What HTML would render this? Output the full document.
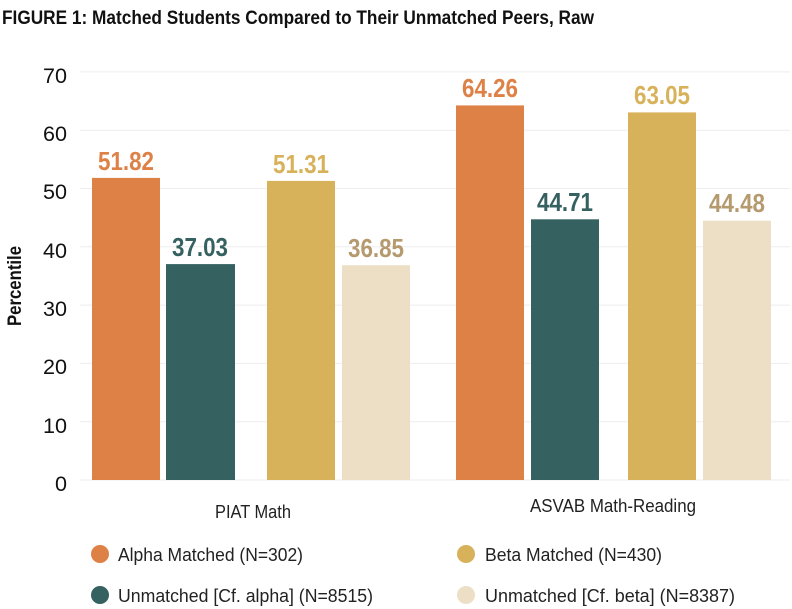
<!DOCTYPE html>
<html><head><style>body{margin:0;background:#fff}svg{display:block}text{font-family:"Liberation Sans",sans-serif}</style></head>
<body>
<svg width="792" height="609" viewBox="0 0 792 609" xmlns="http://www.w3.org/2000/svg">
<text x="2" y="24" font-size="19" font-weight="bold" fill="#111" textLength="592" lengthAdjust="spacingAndGlyphs">FIGURE 1: Matched Students Compared to Their Unmatched Peers, Raw</text>
<g stroke="#eeeeee" stroke-width="1">
<line x1="80" x2="790" y1="480" y2="480"/><line x1="80" x2="790" y1="421.7" y2="421.7"/><line x1="80" x2="790" y1="363.4" y2="363.4"/><line x1="80" x2="790" y1="305.1" y2="305.1"/><line x1="80" x2="790" y1="246.8" y2="246.8"/><line x1="80" x2="790" y1="188.5" y2="188.5"/><line x1="80" x2="790" y1="130.2" y2="130.2"/><line x1="80" x2="790" y1="71.9" y2="71.9"/>
</g>
<g font-size="21" fill="#111" text-anchor="end">
<text x="67" y="491" textLength="12" lengthAdjust="spacingAndGlyphs">0</text><text x="67" y="433" textLength="24" lengthAdjust="spacingAndGlyphs">10</text><text x="67" y="374" textLength="24" lengthAdjust="spacingAndGlyphs">20</text><text x="67" y="316" textLength="24" lengthAdjust="spacingAndGlyphs">30</text><text x="67" y="258" textLength="24" lengthAdjust="spacingAndGlyphs">40</text><text x="67" y="199" textLength="24" lengthAdjust="spacingAndGlyphs">50</text><text x="67" y="141" textLength="24" lengthAdjust="spacingAndGlyphs">60</text><text x="67" y="83" textLength="24" lengthAdjust="spacingAndGlyphs">70</text>
</g>
<text transform="translate(21,286) rotate(-90)" font-size="19" font-weight="bold" fill="#111" text-anchor="middle" textLength="80" lengthAdjust="spacingAndGlyphs">Percentile</text>
<rect x="92" y="177.9" width="68" height="302.1" fill="#de8146"/>
<rect x="166" y="264.1" width="69" height="215.9" fill="#356160"/>
<rect x="267" y="180.9" width="68" height="299.1" fill="#d8b25b"/>
<rect x="342" y="265.2" width="68" height="214.8" fill="#ecdfc5"/>
<rect x="456" y="105.4" width="68" height="374.6" fill="#de8146"/>
<rect x="531" y="219.3" width="68" height="260.7" fill="#356160"/>
<rect x="628" y="112.4" width="68" height="367.6" fill="#d8b25b"/>
<rect x="703" y="220.7" width="68" height="259.3" fill="#ecdfc5"/>
<g font-size="26" font-weight="bold" text-anchor="middle">
<text x="126" y="170" fill="#de8146" textLength="56" lengthAdjust="spacingAndGlyphs">51.82</text>
<text x="200" y="256" fill="#356160" textLength="56" lengthAdjust="spacingAndGlyphs">37.03</text>
<text x="301" y="173" fill="#d8b25b" textLength="56" lengthAdjust="spacingAndGlyphs">51.31</text>
<text x="376" y="257" fill="#b59a6e" textLength="56" lengthAdjust="spacingAndGlyphs">36.85</text>
<text x="490" y="97" fill="#de8146" textLength="56" lengthAdjust="spacingAndGlyphs">64.26</text>
<text x="565" y="211" fill="#356160" textLength="56" lengthAdjust="spacingAndGlyphs">44.71</text>
<text x="662" y="104" fill="#d8b25b" textLength="56" lengthAdjust="spacingAndGlyphs">63.05</text>
<text x="737" y="212" fill="#b59a6e" textLength="56" lengthAdjust="spacingAndGlyphs">44.48</text>
</g>
<g font-size="18" fill="#222" text-anchor="middle">
<text x="253" y="518" textLength="76" lengthAdjust="spacingAndGlyphs">PIAT Math</text>
<text x="613" y="512" textLength="166" lengthAdjust="spacingAndGlyphs">ASVAB Math-Reading</text>
</g>
<circle cx="100" cy="554" r="9" fill="#de8146"/>
<circle cx="100" cy="595" r="9" fill="#356160"/>
<circle cx="466" cy="554" r="9" fill="#d8b25b"/>
<circle cx="466" cy="595" r="9" fill="#ecdfc5"/>
<g font-size="18" fill="#222">
<text x="118" y="561" textLength="185" lengthAdjust="spacingAndGlyphs">Alpha Matched (N=302)</text>
<text x="118" y="602" textLength="255" lengthAdjust="spacingAndGlyphs">Unmatched [Cf. alpha] (N=8515)</text>
<text x="485" y="561" textLength="177" lengthAdjust="spacingAndGlyphs">Beta Matched (N=430)</text>
<text x="485" y="602" textLength="250" lengthAdjust="spacingAndGlyphs">Unmatched [Cf. beta] (N=8387)</text>
</g>
</svg>
</body></html>
